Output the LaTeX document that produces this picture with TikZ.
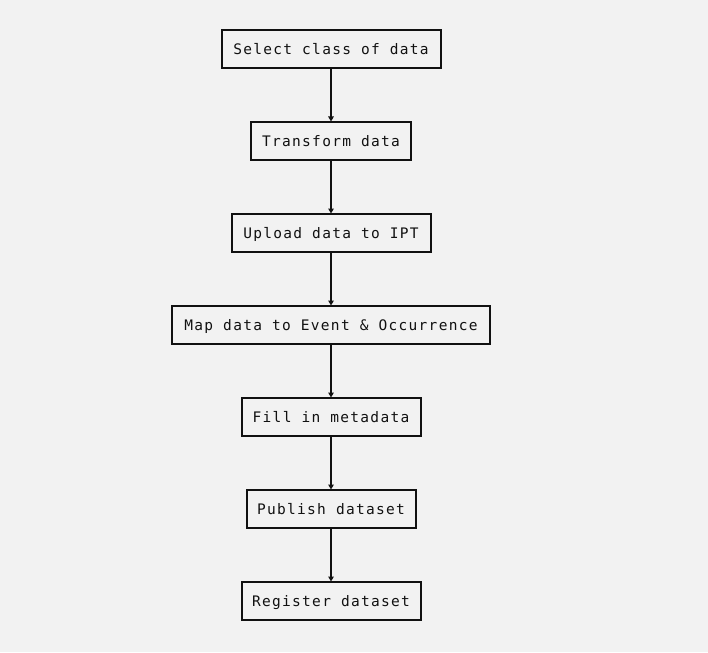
\documentclass[tikz,border=0pt]{standalone}
\usepackage{fontspec}
\setmonofont[LetterSpace=9]{DejaVu Sans Mono}
\usetikzlibrary{arrows.meta}
\definecolor{bg}{HTML}{F2F2F2}
\definecolor{ink}{HTML}{111111}
\begin{document}
\begin{tikzpicture}[x=1pt,y=-1pt,
  stepbox/.style={draw=ink, fill=bg, line width=2pt, minimum height=38pt, inner sep=0pt,
    text height=14pt, text depth=3pt,
    font=\fontsize{14.5pt}{16pt}\ttfamily, text=ink, anchor=center},
  flow/.style={draw=ink, line width=1.8pt, -{Triangle[length=5pt,width=5.5pt]}, shorten >=-0.5pt}]
\fill[bg] (0,0) rectangle (708,652);
\useasboundingbox (0,0) rectangle (708,652);
\node[stepbox, minimum width=219pt] (n1) at (331,49) {Select class of data};
\node[stepbox, minimum width=160pt] (n2) at (331,141) {Transform data};
\node[stepbox, minimum width=199pt] (n3) at (331,233) {Upload data to IPT};
\node[stepbox, minimum width=318pt] (n4) at (331,325) {Map data to Event \& Occurrence};
\node[stepbox, minimum width=179pt] (n5) at (331,417) {Fill in metadata};
\node[stepbox, minimum width=169pt] (n6) at (331,509) {Publish dataset};
\node[stepbox, minimum width=179pt] (n7) at (331,601) {Register dataset};
\draw[flow] (n1) -- (n2);
\draw[flow] (n2) -- (n3);
\draw[flow] (n3) -- (n4);
\draw[flow] (n4) -- (n5);
\draw[flow] (n5) -- (n6);
\draw[flow] (n6) -- (n7);
\end{tikzpicture}
\end{document}
